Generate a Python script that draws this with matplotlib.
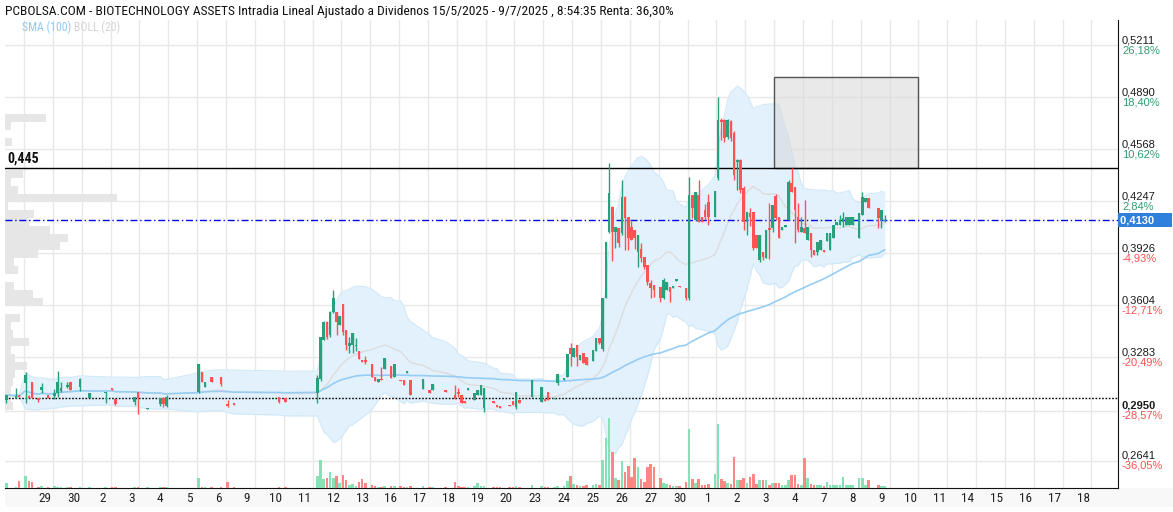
import numpy as np
import pandas as pd
import matplotlib
matplotlib.use('Agg')
import matplotlib.pyplot as plt
from matplotlib.patches import Rectangle
from matplotlib.transforms import blended_transform_factory

plt.rcParams['font.family'] = ['Roboto Condensed', 'Archivo Narrow', 'Liberation Sans', 'DejaVu Sans']
AXFONT = ['Arimo', 'Liberation Sans', 'DejaVu Sans']

# ---- data ----
# (day, hour slot, open, high, low, close, volume)
CANDLES = [
    (-1, 3, .3017, .3048, .2999, .3048, 5), (-1, 6, .3029, .3091, .3029, .3042, 1),
    (-1, 7, .3048, .3048, .3036, .3039, 7),
    (0, 0, .3122, .3190, .2999, .3172, 12), (0, 1, .3042, .3048, .3029, .3029, 7),
    (0, 2, .3128, .3128, .3029, .3029, 6), (0, 4, .3029, .3029, .3005, .3017, 1),
    (0, 5, .3079, .3122, .3061, .3098, 2), (0, 7, .3048, .3048, .3029, .3029, 1),
    (1, 0, .3042, .3085, .3023, .3061, 2), (1, 1, .3061, .3196, .3036, .3128, 1),
    (1, 2, .3073, .3128, .3067, .3091, 1), (1, 4, .3098, .3128, .3091, .3110, 1),
    (1, 5, .3128, .3128, .3079, .3079, 1), (1, 8, .3098, .3153, .3073, .3147, 1),
    (2, 2, .3029, .3061, .3029, .3061, 1), (2, 7, .3061, .3067, .2999, .3067, 1),
    (3, 0, .3091, .3091, .3079, .3079, 1), (3, 1, .3023, .3023, .2985, .2992, 1),
    (3, 7, .3005, .3036, .2985, .3036, 1), (3, 8, .3067, .3067, .2931, .3029, 1),
    (4, 2, .2962, .2968, .2962, .2968, 1), (4, 6, .2993, .3029, .2981, .3029, 1),
    (4, 7, .3029, .3036, .2975, .2993, 1), (4, 8, .2981, .3048, .2975, .3036, 1),
    (6, 0, .3067, .3240, .3061, .3240, 10), (6, 1, .3190, .3190, .3128, .3128, 1),
    (6, 2, .3098, .3128, .3098, .3128, 1), (6, 4, .3159, .3159, .3128, .3128, 1),
    (6, 7, .3159, .3159, .3104, .3116, 1),
    (7, 0, .2993, .3017, .2975, .2981, 6), (7, 2, .2999, .2999, .2987, .2987, 1),
    (8, 7, .3036, .3036, .2999, .3005, 1),
    (9, 0, .3029, .3029, .3005, .3005, 1),
    (10, 1, .3061, .3172, .2999, .3153, 12), (10, 2, .3147, .3407, .3135, .3407, 28),
    (10, 3, .3388, .3505, .3388, .3499, 9), (10, 4, .3499, .3505, .3394, .3407, 10),
    (10, 5, .3419, .3570, .3410, .3561, 16), (10, 6, .3561, .3697, .3555, .3648, 10),
    (10, 7, .3561, .3561, .3419, .3499, 12), (10, 8, .3481, .3536, .3481, .3536, 5),
    (11, 0, .3610, .3610, .3419, .3438, 13), (11, 1, .3450, .3450, .3327, .3357, 8),
    (11, 2, .3350, .3407, .3308, .3370, 3), (11, 3, .3357, .3431, .3308, .3431, 4),
    (11, 4, .3350, .3400, .3320, .3360, 2), (11, 5, .3321, .3321, .3271, .3271, 6),
    (11, 6, .3265, .3265, .3253, .3253, 9), (11, 7, .3265, .3290, .3240, .3253, 5),
    (12, 0, .3240, .3240, .3159, .3159, 3), (12, 1, .3159, .3159, .3135, .3135, 2),
    (12, 2, .3128, .3147, .3128, .3147, 1), (12, 3, .3147, .3221, .3141, .3141, 1),
    (12, 4, .3209, .3277, .3209, .3277, 2), (12, 6, .3228, .3228, .3153, .3153, 2),
    (12, 7, .3159, .3240, .3159, .3240, 2),
    (13, 0, .3141, .3141, .3135, .3135, 2), (13, 1, .3141, .3141, .3110, .3110, 1),
    (13, 2, .3184, .3196, .3184, .3196, 1), (13, 3, .3141, .3141, .3048, .3048, 2),
    (13, 7, .3085, .3147, .3085, .3147, 2),
    (14, 0, .3079, .3079, .3061, .3061, 1), (14, 1, .3079, .3116, .3079, .3116, 1),
    (14, 5, .3079, .3079, .3067, .3067, 1), (14, 8, .3048, .3110, .3023, .3023, 6),
    (15, 0, .3067, .3091, .3036, .3054, 2), (15, 1, .3048, .3048, .2999, .2999, 1),
    (15, 2, .3011, .3011, .2999, .2999, 1), (15, 3, .3079, .3091, .3079, .3091, 1),
    (15, 5, .3017, .3061, .3017, .3061, 2), (15, 6, .3048, .3079, .3048, .3079, 5),
    (15, 7, .3048, .3110, .3048, .3110, 2), (15, 8, .2968, .3091, .2944, .3091, 2),
    (16, 2, .3011, .3011, .2999, .2999, 1), (16, 3, .2987, .2987, .2975, .2975, 1),
    (16, 4, .2981, .2981, .2968, .2968, 1), (16, 7, .2987, .2987, .2981, .2981, 1),
    (16, 8, .3011, .3011, .2987, .2987, 1),
    (17, 0, .2975, .3067, .2962, .3067, 2), (17, 1, .3017, .3017, .2999, .2999, 1),
    (17, 5, .3036, .3141, .3036, .3141, 3), (17, 8, .3005, .3098, .3005, .3098, 2),
    (18, 0, .3023, .3023, .3011, .3011, 1), (18, 1, .3067, .3067, .3017, .3017, 1),
    (18, 3, .3023, .3029, .3023, .3029, 1), (18, 4, .3122, .3178, .3110, .3178, 2),
    (18, 6, .3141, .3153, .3141, .3153, 2), (18, 7, .3159, .3302, .3159, .3302, 7),
    (18, 8, .3339, .3370, .3228, .3302, 12),
    (19, 0, .3284, .3339, .3284, .3339, 4), (19, 1, .3357, .3357, .3228, .3284, 3),
    (19, 2, .3265, .3296, .3265, .3296, 2), (19, 3, .3308, .3308, .3246, .3246, 2),
    (19, 4, .3284, .3284, .3234, .3234, 3), (19, 6, .3259, .3327, .3259, .3327, 3),
    (19, 7, .3320, .3400, .3320, .3400, 4), (19, 8, .3400, .3400, .3364, .3370, 3),
    (20, 0, .3330, .3648, .3320, .3648, 28), (20, 1, .3648, .3994, .3648, .3994, 50),
    (20, 2, .4056, .4482, .4050, .4297, 70), (20, 3, .4210, .4216, .3877, .4056, 36),
    (20, 4, .4056, .4087, .3957, .4087, 10), (20, 5, .4081, .4081, .3963, .3988, 8),
    (20, 6, .4050, .4377, .4038, .4272, 27), (20, 7, .4272, .4278, .3945, .4142, 16),
    (20, 8, .4148, .4148, .3945, .4019, 22),
    (21, 0, .4087, .4130, .4006, .4006, 11), (21, 1, .4068, .4068, .3950, .4019, 30),
    (21, 2, .3932, .4038, .3840, .4038, 21), (21, 3, .3951, .3988, .3870, .3895, 9),
    (21, 4, .3901, .3901, .3827, .3840, 6), (21, 5, .3852, .3852, .3728, .3747, 21),
    (21, 6, .3741, .3759, .3648, .3710, 24), (21, 7, .3728, .3728, .3654, .3697, 21),
    (22, 0, .3716, .3716, .3623, .3648, 10), (22, 1, .3648, .3772, .3642, .3759, 5),
    (22, 2, .3697, .3747, .3697, .3747, 4), (22, 3, .3716, .3716, .3623, .3685, 3),
    (22, 4, .3710, .3722, .3710, .3722, 2), (22, 5, .3753, .3766, .3753, .3766, 2),
    (22, 6, .3722, .3722, .3716, .3716, 2), (22, 8, .3710, .3710, .3636, .3648, 6),
    (23, 0, .3648, .4395, .3636, .4284, 59), (23, 1, .4284, .4284, .4142, .4204, 9),
    (23, 2, .4130, .4303, .4130, .4303, 5), (23, 3, .4284, .4377, .4117, .4117, 9),
    (23, 4, .4148, .4148, .4117, .4117, 3), (23, 5, .4192, .4229, .4130, .4148, 3),
    (23, 6, .4241, .4290, .4099, .4148, 4), (23, 8, .4148, .4309, .4148, .4309, 14),
    (24, 0, .4389, .4890, .4377, .4748, 64), (24, 1, .4748, .4760, .4624, .4735, 9),
    (24, 2, .4748, .4754, .4611, .4637, 7), (24, 3, .4643, .4754, .4630, .4748, 5),
    (24, 4, .4742, .4748, .4620, .4637, 4), (24, 5, .4668, .4680, .4377, .4408, 31),
    (24, 6, .4488, .4507, .4315, .4501, 8), (24, 7, .4501, .4507, .4300, .4315, 8),
    (24, 8, .4328, .4340, .4068, .4117, 10),
    (25, 0, .4117, .4179, .4038, .4179, 5), (25, 1, .4173, .4204, .4093, .4148, 11),
    (25, 2, .4179, .4179, .3945, .3957, 14), (25, 3, .4038, .4038, .3957, .3957, 4),
    (25, 4, .3883, .4038, .3870, .4038, 8), (25, 5, .3932, .3932, .3883, .3901, 8),
    (25, 6, .3895, .4068, .3895, .4068, 8), (25, 7, .4081, .4235, .3889, .4068, 3),
    (25, 8, .4081, .4223, .4056, .4223, 5),
    (26, 0, .4278, .4290, .4130, .4142, 5), (26, 1, .4148, .4148, .4019, .4019, 5),
    (26, 2, .4068, .4087, .4068, .4087, 3), (26, 3, .4087, .4099, .4087, .4099, 3),
    (26, 4, .4130, .4377, .4130, .4365, 8), (26, 5, .4359, .4451, .4303, .4303, 13),
    (26, 6, .4334, .4334, .3988, .4192, 13), (26, 7, .4148, .4235, .4056, .4068, 4),
    (26, 8, .4056, .4148, .4056, .4087, 3),
    (27, 0, .4081, .4253, .4050, .4050, 30), (27, 1, .4006, .4087, .4006, .4087, 10),
    (27, 2, .4050, .4050, .3901, .3945, 4), (27, 3, .3945, .3945, .3914, .3914, 3),
    (27, 4, .3932, .3994, .3914, .3994, 3), (27, 5, .3945, .4006, .3945, .4006, 3),
    (27, 6, .3945, .3945, .3932, .3932, 2), (27, 7, .4000, .4050, .4000, .4050, 6),
    (27, 8, .3945, .4050, .3945, .4050, 3),
    (28, 0, .4019, .4099, .4019, .4099, 3), (28, 1, .4099, .4117, .4099, .4117, 3),
    (28, 2, .4099, .4161, .4099, .4130, 3), (28, 3, .4117, .4179, .4087, .4142, 11),
    (28, 4, .4099, .4148, .4099, .4148, 3), (28, 5, .4099, .4148, .4099, .4148, 3),
    (28, 6, .4099, .4148, .4099, .4148, 3), (28, 8, .4019, .4173, .4019, .4173, 10),
    (29, 0, .4161, .4303, .4161, .4272, 10), (29, 1, .4241, .4266, .4241, .4266, 3),
    (29, 2, .4266, .4266, .4204, .4204, 8), (29, 5, .4204, .4204, .4080, .4142, 3),
    (29, 6, .4130, .4192, .4080, .4192, 2), (29, 7, .4124, .4161, .4117, .4130, 2),
]
SLOTS = 9

DAY_LABELS = ['29', '30', '2', '3', '4', '5', '6', '9', '10', '11', '12', '13', '16', '17',
              '18', '19', '20', '23', '24', '25', '26', '27', '30', '1', '2', '3', '4', '7',
              '8', '9', '10', '11', '14', '15', '16', '17', '18']

Y_TICKS = [0.5211, 0.4890, 0.4568, 0.4247, 0.3926, 0.3604, 0.3283, 0.2950, 0.2641]
Y_PCT = ['26,18%', '18,40%', '10,62%', '2,84%', '-4,93%', '-12,71%', '-20,49%', '-28,57%', '-36,05%']
BOLD_TICK = 0.2950

# volume profile on the left (price level, relative volume)
PROFILE_P = [.2980, .3030, .3079, .3129, .3178, .3228, .3277, .3327, .3376, .3425, .3475,
             .3524, .3623, .3673, .3722, .3821, .3870, .3920, .3969, .4019, .4068, .4117,
             .4167, .4216, .4266, .4315, .4365, .4414, .4612, .4711, .4760]
PROFILE_V = [8, 6, 6, 8, 10, 22, 10, 6, 24, 8, 6, 15, 38, 28, 9, 13, 9, 33, 55, 63, 45, 24,
             29, 3, 112, 13, 6, 18, 7, 6, 41]

LAST_PRICE = 0.4130
LEVEL = 0.445
START_PRICE = 0.3030
BOX_DAYS = (26, 31)
BOX_PRICES = (0.445, 0.5014)

UP, DOWN = '#26a17b', '#ff5252'
VUP, VDOWN = '#86e2b6', '#ff8686'

# ---- figure ----
fig = plt.figure(figsize=(11.73, 5.12), dpi=100)
ax = fig.add_axes([5 / 1173, 24 / 512, 1113 / 1173, 468 / 512])
ax.set_xlim(-0.659, 37.92)
ax.set_ylim(0.2474, 0.5366)

# bottom label band
fig.patches.append(Rectangle((5 / 1173, 5 / 512), 1 - 5 / 1173, 19 / 512,
                             transform=fig.transFigure, facecolor='#f8f8f8',
                             edgecolor='none', zorder=-5))

ax.set_xticks(np.arange(0, 38))
ax.set_yticks(Y_TICKS)
ax.grid(True, color='#e8e8e8', lw=1, zorder=0)
ax.set_axisbelow(True)
ax.tick_params(length=0, labelbottom=False, labelleft=False)
for s in ['left', 'top']:
    ax.spines[s].set_visible(False)
ax.spines['bottom'].set_color('#111')
ax.spines['right'].set_color('#111')

df = pd.DataFrame(CANDLES, columns=['day', 'slot', 'o', 'h', 'l', 'c', 'v'])
df['x'] = df['day'] + (df['slot'] + 0.5) / SLOTS
up = df['c'] >= df['o']

# volume profile
prof_tr = blended_transform_factory(ax.transAxes, ax.transData)
ax.barh(PROFILE_P, np.array(PROFILE_V) / 1113, height=0.0046, left=0,
        color='#e6e6e6', transform=prof_tr, zorder=1)

# bollinger (20) and sma (100)
mid = df['c'].rolling(20, min_periods=1).mean()
sd = df['c'].rolling(20, min_periods=1).std(ddof=0)
upper, lower = mid + 2 * sd, mid - 2 * sd
ax.fill_between(df['x'], lower, upper, color='#e2f1fc', lw=0, zorder=2)
ax.plot(df['x'], upper, color='#d0e8f8', lw=0.8, zorder=2)
ax.plot(df['x'], lower, color='#d0e8f8', lw=0.8, zorder=2)
ax.plot(df['x'], mid, color='#dcdcdc', lw=1, zorder=3)
sma = df['c'].rolling(100, min_periods=1).mean()
ax.plot(df['x'], sma, color='#95cdf5', lw=1.2, zorder=3)

# grey box
ax.add_patch(Rectangle((BOX_DAYS[0], BOX_PRICES[0]), BOX_DAYS[1] - BOX_DAYS[0],
                       BOX_PRICES[1] - BOX_PRICES[0], facecolor='#d8d8d8', alpha=0.55,
                       edgecolor='none', zorder=3.5))
ax.add_patch(Rectangle((BOX_DAYS[0], BOX_PRICES[0]), BOX_DAYS[1] - BOX_DAYS[0],
                       BOX_PRICES[1] - BOX_PRICES[0], facecolor='none',
                       edgecolor='#555555', lw=1, zorder=3.6))

# volume bars
vol_tr = blended_transform_factory(ax.transData, ax.transAxes)
ax.bar(df['x'], df['v'] / 468, width=0.8 / SLOTS, bottom=0,
       color=np.where(up, VUP, VDOWN), transform=vol_tr, zorder=4)

# reference lines
ax.axhline(LEVEL, color='#000', lw=1, zorder=5)
ax.axhline(START_PRICE, color='#000', lw=1, ls=(0, (1.2, 1.2)), zorder=5)
ax.axhline(LAST_PRICE, color='#0000ee', lw=1, ls=(0, (5, 2, 1, 2)), zorder=5)

# candles
cols = np.where(up, UP, DOWN)
ax.vlines(df['x'], df['l'], df['h'], colors=cols, lw=1, zorder=6)
body_lo = np.minimum(df['o'], df['c'])
body_h = np.maximum(np.abs(df['c'] - df['o']), 0.0008)
ax.bar(df['x'], body_h, bottom=body_lo, width=0.8 / SLOTS, color=cols, lw=0, zorder=7)

# x labels
lab_tr = blended_transform_factory(ax.transData, ax.transAxes)
for k, lab in enumerate(DAY_LABELS, start=1):
    ax.text(k - 0.28, -10 / 468, lab, transform=lab_tr, ha='center', va='center',
            fontsize=9.5, color='#222', clip_on=False, zorder=10)

# right axis labels
for p, pct in zip(Y_TICKS, Y_PCT):
    ax.annotate(f'{p:.4f}'.replace('.', ','), xy=(1, p), xycoords=('axes fraction', 'data'),
                xytext=(4, 5), textcoords='offset pixels', va='center', ha='left',
                fontsize=8, color='#1a1a1a', family=AXFONT,
                fontweight='bold' if p == BOLD_TICK else 'normal')
    ax.annotate(pct, xy=(1, p), xycoords=('axes fraction', 'data'),
                xytext=(4, -5), textcoords='offset pixels', va='center', ha='left',
                fontsize=8, color='#2e9e6e' if not pct.startswith('-') else '#ff5050',
                family=AXFONT)

ax.annotate(f'{LAST_PRICE:.4f}'.replace('.', ',') + '     ', xy=(1, LAST_PRICE),
            xycoords=('axes fraction', 'data'), xytext=(2, 0), textcoords='offset pixels',
            va='center', ha='left', fontsize=8, color='white', fontweight='bold',
            family=AXFONT,
            bbox=dict(boxstyle='square,pad=0.2', fc='#2f80dc', ec='none'))

ax.annotate(f'{LEVEL:.3f}'.replace('.', ','), xy=(0, LEVEL), xycoords=('axes fraction', 'data'),
            xytext=(2, 3), textcoords='offset pixels', va='bottom', ha='left',
            fontsize=10, color='#111', fontweight='bold')

fig.text(5 / 1173, 1 - 12 / 512,
         'PCBOLSA.COM - BIOTECHNOLOGY ASSETS Intradia Lineal Ajustado a Dividenos '
         '15/5/2025 - 9/7/2025 , 8:54:35 Renta: 36,30%',
         fontsize=9.7, va='center', ha='left', color='#111')
fig.text(22 / 1173, 1 - 27 / 512, 'SMA (100)', fontsize=8.5, va='center', color='#92c9f2')
fig.text(74 / 1173, 1 - 27 / 512, 'BOLL (20)', fontsize=8.5, va='center', color='#d4d4d4')

fig.savefig('out.png', dpi=100)
